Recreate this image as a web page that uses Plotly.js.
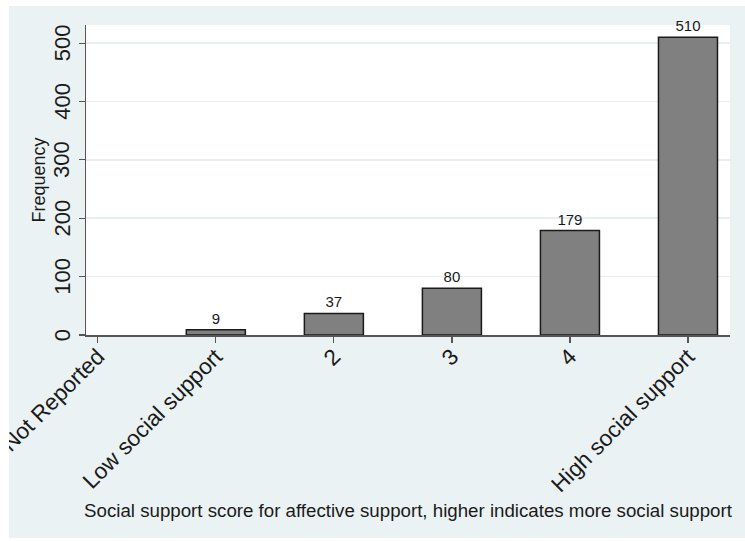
<!DOCTYPE html>
<html>
<head>
<meta charset="utf-8">
<script src="https://cdn.plot.ly/plotly-3.0.1.min.js"></script>
<style>
html,body{margin:0;padding:0;background:#ffffff;}
#chart{position:absolute;left:9px;top:6px;width:736px;height:532px;}
</style>
</head>
<body>
<div id="chart"></div>
<script>
var categories = ["Not Reported", "Low social support", "2", "3", "4", "High social support"];
var frequencies = [0, 9, 37, 80, 179, 510];
var yTicks = [0, 100, 200, 300, 400, 500];

var FONT = "Liberation Sans, Arial, Helvetica, sans-serif";
var barLabels = frequencies.map(function (v) { return v > 0 ? String(v) : ""; });
var outlineWidths = frequencies.map(function (v) { return v > 0 ? 1.5 : 0; });

var trace = {
  type: "bar",
  x: categories,
  y: frequencies,
  width: 0.5,
  marker: { color: "#808080", line: { color: "#1a1a1a", width: outlineWidths } },
  text: barLabels,
  textposition: "outside",
  textfont: { family: FONT, size: 15, color: "#1a1a1a" },
  constraintext: "none",
  cliponaxis: false,
  hoverinfo: "x+y"
};

var yTickAnnotations = yTicks.map(function (v) {
  return {
    xref: "paper", yref: "y",
    x: -0.037, y: v,
    text: String(v),
    textangle: -90,
    showarrow: false,
    xanchor: "center", yanchor: "middle",
    font: { family: FONT, size: 22, color: "#1a1a1a" }
  };
});

var layout = {
  paper_bgcolor: "#eaf2f3",
  plot_bgcolor: "#ffffff",
  margin: { l: 77, r: 15, t: 19, b: 203 },
  showlegend: false,
  font: { family: FONT, color: "#1a1a1a" },
  annotations: yTickAnnotations,
  xaxis: {
    type: "category",
    range: [-0.1, 5.356],
    showgrid: false,
    showline: true,
    linecolor: "#555555",
    linewidth: 1.5,
    ticks: "outside",
    ticklen: 6,
    tickwidth: 1.2,
    tickcolor: "#555555",
    tickangle: -45,
    ticklabelstandoff: -8,
    tickfont: { size: 22.5, color: "#1a1a1a" },
    title: {
      text: "Social support score for affective support, higher indicates more social support",
      font: { size: 18.7, color: "#1a1a1a" },
      standoff: 8
    },
    automargin: false
  },
  yaxis: {
    range: [0, 531],
    tickvals: yTicks,
    showticklabels: false,
    showgrid: true,
    gridcolor: "#e8eff2",
    gridwidth: 1.5,
    zeroline: false,
    showline: true,
    linecolor: "#555555",
    linewidth: 1.5,
    ticks: "outside",
    ticklen: 6,
    tickwidth: 1.2,
    tickcolor: "#555555",
    title: { text: "Frequency", font: { size: 18, color: "#1a1a1a" }, standoff: 28 },
    automargin: false
  }
};

Plotly.newPlot("chart", [trace], layout, { displayModeBar: false, staticPlot: true });
</script>
</body>
</html>
